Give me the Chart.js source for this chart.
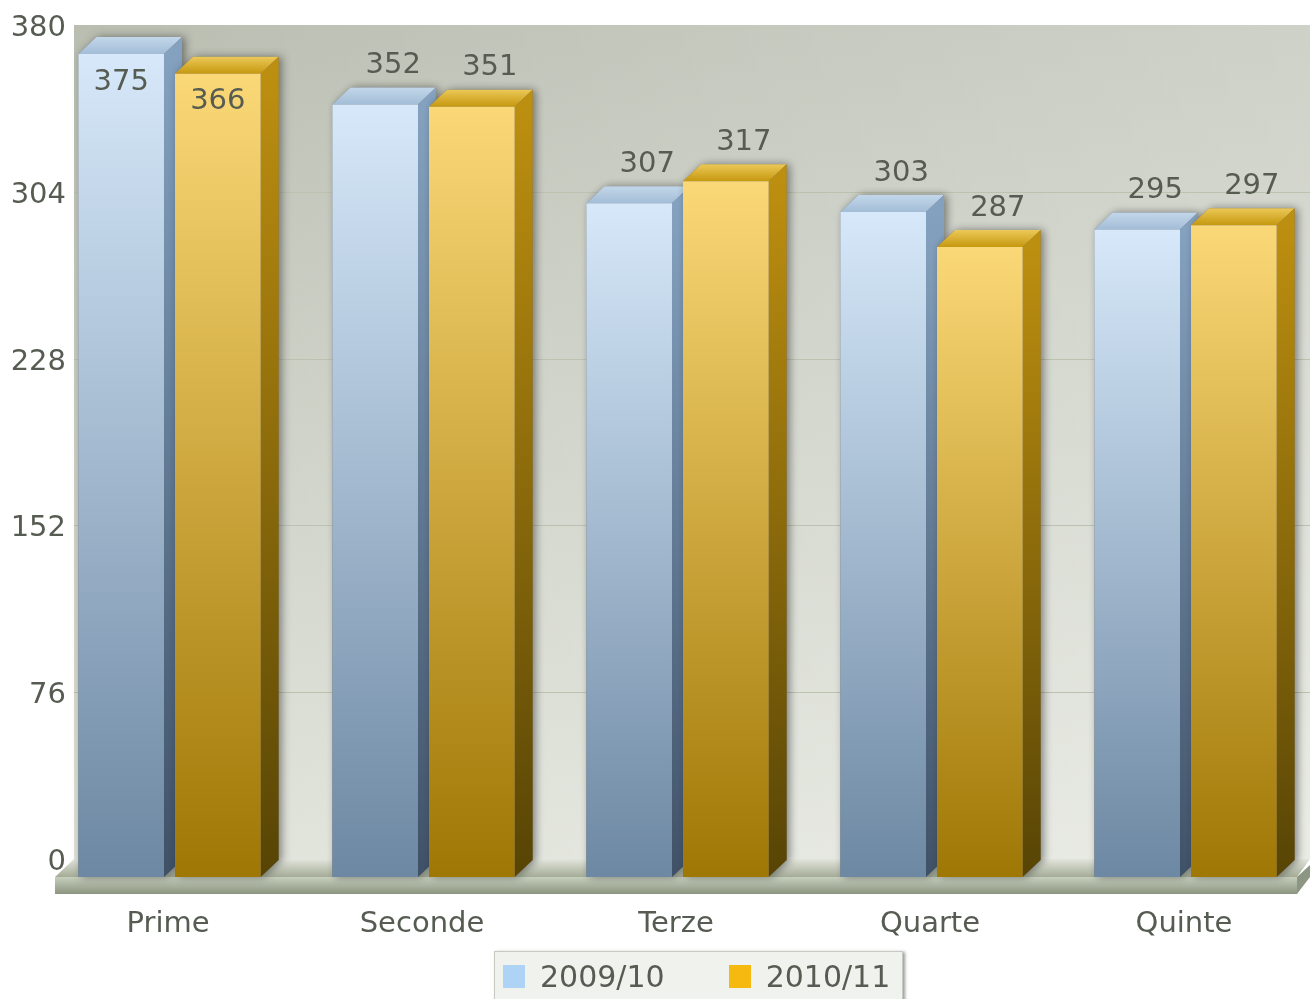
<!DOCTYPE html>
<html>
<head>
<meta charset="utf-8">
<title>Chart</title>
<script src="https://cdn.jsdelivr.net/npm/chart.js@4"></script>
<style>
  html, body { margin: 0; padding: 0; background: #fff; overflow: hidden; }
  #wrap { position: relative; width: 1310px; height: 999px; overflow: hidden; }
  #legend {
    position: absolute; left: 494px; top: 951px; width: 409px; height: 60px;
    box-sizing: border-box; display: flex; align-items: flex-start; padding: 13px 0 0 8px;
    background: #f0f2ed; border: 1px solid #c6cac2; box-shadow: 2px 1px 3px #9a9a9a;
    font: 30px "DejaVu Sans"; color: #565c52; line-height: 24px; white-space: nowrap;
  }
  #legend i { display: block; flex: none; width: 22px; height: 23px; margin-right: 15px; }
  #legend span { flex: none; margin-right: 64px; }
  #legend span:last-child { margin-right: 0; }
</style>
</head>
<body>
<div id="wrap">
  <!-- wider than the page: the plot's right edge runs off the picture -->
  <canvas id="chart" width="1338" height="999"></canvas>
  <div id="legend"></div>
</div>
<script>
const categories = ['Prime', 'Seconde', 'Terze', 'Quarte', 'Quinte'];
const series2009 = [375, 352, 307, 303, 295];
const series2010 = [366, 351, 317, 287, 297];
const seriesNames = ['2009/10', '2010/11'];
const legendColors = ['#afd3f5', '#f6b90f'];
const yMax = 380;
const yStep = 76;

// depth of the fake 3d box, in pixels. The y scale describes the back plane,
// bars get pushed forward when they are drawn
const DX = 18;
const DY = 18;
// chart area starts right of the tick labels, so bars move left a bit more than DX
const SHIFT_X = -25.5;
const PAGE_W = 1310;
const FONT = '"DejaVu Sans"';
const TEXT = '#565c52';

const palette = [
  { front: ['#d6e8f9', '#6d88a3'], top: ['#c4d8ea', '#a3bdd7'], side: ['#84a2c0', '#3f5167'] },
  { front: ['#fbd877', '#9f7705'], top: ['#eecb5c', '#c6980f'], side: ['#bd8f10', '#574405'] }
];

function vGrad(ctx, y0, y1, colors) {
  const g = ctx.createLinearGradient(0, y0, 0, y1);
  g.addColorStop(0, colors[0]);
  g.addColorStop(1, colors[1]);
  return g;
}

function poly(ctx, pts, fill) {
  ctx.beginPath();
  pts.forEach((p, i) => i ? ctx.lineTo(p[0], p[1]) : ctx.moveTo(p[0], p[1]));
  ctx.closePath();
  ctx.fillStyle = fill;
  ctx.fill();
}

function drawWallAndFloor(chart) {
  const ctx = chart.ctx;
  const y = chart.scales.y;
  const top = y.getPixelForValue(yMax);
  const zero = y.getPixelForValue(0);
  const wallLeft = chart.chartArea.left + 6;
  const right = PAGE_W;

  ctx.save();
  ctx.fillStyle = vGrad(ctx, top, zero, ['#babeb1', '#e0e3da']);
  ctx.fillRect(wallLeft, top, right - wallLeft, zero - top);
  const h = ctx.createLinearGradient(wallLeft, 0, right, 0);
  h.addColorStop(0, 'rgba(255,255,255,0)');
  h.addColorStop(1, 'rgba(255,255,255,0.3)');
  ctx.fillStyle = h;
  ctx.fillRect(wallLeft, top, right - wallLeft, zero - top);

  // gridlines on the wall
  ctx.strokeStyle = '#bcc2b0';
  ctx.lineWidth = 1;
  y.ticks.forEach((t, i) => {
    if (t.value === 0 || t.value === yMax) return;
    const py = Math.round(y.getPixelForTick(i)) + 0.5;
    ctx.beginPath();
    ctx.moveTo(wallLeft, py);
    ctx.lineTo(right, py);
    ctx.stroke();
  });

  // floor
  const fl = wallLeft - 19, fr = right - 13, fy = zero + DY;
  poly(ctx, [[fl, fy], [wallLeft, zero], [right, zero], [fr, fy]], vGrad(ctx, zero, fy, ['#e2e5dc', '#a4ac97']));
  poly(ctx, [[fl, fy], [fr, fy], [fr, fy + 17], [fl, fy + 17]], vGrad(ctx, fy, fy + 17, ['#c6cebd', '#8c957f']));
  poly(ctx, [[fr, fy], [right, zero + 6], [right, fy], [fr, fy + 17]], '#8d9682');
  ctx.restore();
}

function drawFaces(ctx, meta, c) {
  meta.data.forEach(el => {
    const x0 = el.x - el.width / 2;
    const x1 = el.x + el.width / 2;
    const backY = el.y - DY + 1;
    const backBase = el.base - DY + 1;
    ctx.save();
    ctx.shadowColor = 'rgba(30,30,30,0.5)';
    ctx.shadowBlur = 8;
    ctx.shadowOffsetX = 3;
    poly(ctx, [[x0, el.base], [x0, el.y], [x0 + DX, backY], [x1 + DX, backY], [x1 + DX, backBase], [x1, el.base]], '#777');
    ctx.restore();
    poly(ctx, [[x0, el.y], [x0 + DX, backY], [x1 + DX, backY], [x1, el.y]], vGrad(ctx, el.y - DY, el.y, c.top));
    poly(ctx, [[x1, el.y], [x1 + DX, backY], [x1 + DX, backBase], [x1, el.base]], vGrad(ctx, el.y, el.base, c.side));
  });
}

function drawValues(chart) {
  const ctx = chart.ctx;
  ctx.save();
  ctx.font = '29px ' + FONT;
  ctx.fillStyle = TEXT;
  ctx.textAlign = 'center';
  ctx.textBaseline = 'middle';
  chart.data.datasets.forEach((ds, d) => {
    chart.getDatasetMeta(d).data.forEach((el, i) => {
      const front = el.x + SHIFT_X;
      const py = el.y + DY;
      // no room above the tallest bars, so the value goes on the front
      if (py - 39 < 40) {
        ctx.fillText(ds.data[i], front, py + 28);
      } else {
        ctx.fillText(ds.data[i], front + DX, py - 39);
      }
    });
  });
  ctx.restore();
}

const box3d = {
  id: 'box3d',
  beforeDatasetsDraw(chart) {
    const ctx = chart.ctx;
    drawWallAndFloor(chart);
    // left series first: the next bar has to cover its side face
    chart.data.datasets.forEach((ds, d) => {
      const meta = chart.getDatasetMeta(d);
      ctx.save();
      ctx.translate(SHIFT_X, DY);
      drawFaces(ctx, meta, palette[d]);
      meta.controller.draw();
      ctx.restore();
    });
    drawValues(chart);
    return false;
  }
};

function barFill(colors) {
  return c => {
    const { chart, raw } = c;
    if (!chart.chartArea) return colors[0];
    const y = chart.scales.y;
    return vGrad(chart.ctx, y.getPixelForValue(raw), y.getPixelForValue(0), colors);
  };
}

new Chart(document.getElementById('chart'), {
  type: 'bar',
  data: {
    labels: categories,
    datasets: [
      { label: seriesNames[0], data: series2009, backgroundColor: barFill(palette[0].front) },
      { label: seriesNames[1], data: series2010, backgroundColor: barFill(palette[1].front) }
    ]
  },
  options: {
    responsive: false,
    animation: false,
    layout: { padding: { top: 25 } },
    categoryPercentage: 0.761,
    barPercentage: 0.886,
    scales: {
      x: {
        grid: { display: false },
        border: { display: false },
        afterFit: s => { s.height = 140; },
        ticks: { padding: 40, labelOffset: -27, maxRotation: 0, color: TEXT, font: { family: FONT, size: 29 } }
      },
      y: {
        min: 0,
        max: yMax,
        grid: { display: false },
        border: { display: false },
        afterFit: s => { s.width = 68; },
        ticks: { stepSize: yStep, padding: -6, labelOffset: 3.5, color: TEXT, font: { family: FONT, size: 29 } }
      }
    },
    plugins: {
      legend: { display: false },
      tooltip: { enabled: false }
    }
  },
  plugins: [box3d]
});

const legend = document.getElementById('legend');
seriesNames.forEach((name, i) => {
  const swatch = document.createElement('i');
  swatch.style.background = legendColors[i];
  const label = document.createElement('span');
  label.textContent = name;
  legend.append(swatch, label);
});
</script>
</body>
</html>
